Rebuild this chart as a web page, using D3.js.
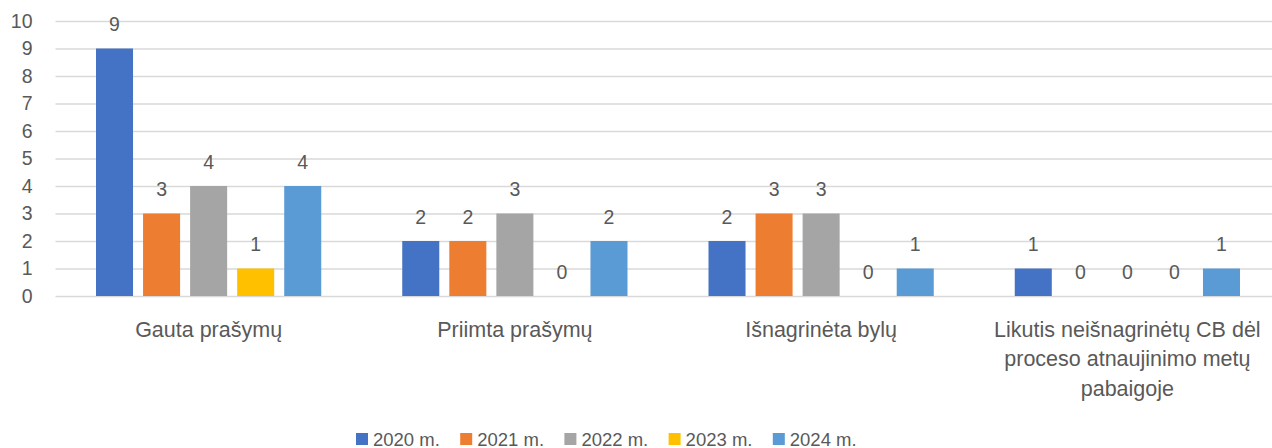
<!DOCTYPE html>
<html><head><meta charset="utf-8">
<script src="https://cdn.jsdelivr.net/npm/d3@7"></script>
<style>
html,body{margin:0;padding:0;background:#fff;}
svg{display:block;font-family:"Liberation Sans",Arial,sans-serif;}
</style></head>
<body><svg id="c" width="1272" height="448"></svg>
<script>
const categories = ["Gauta prašymų", "Priimta prašymų", "Išnagrinėta bylų", "Likutis neišnagrinėtų CB dėl proceso atnaujinimo metų pabaigoje"];
const seriesNames = ["2020 m.", "2021 m.", "2022 m.", "2023 m.", "2024 m."];
const v2020 = [9, 2, 2, 1];
const v2021 = [3, 2, 3, 0];
const v2022 = [4, 3, 3, 0];
const v2023 = [1, 0, 0, 0];
const v2024 = [4, 2, 1, 1];
const yTicks = [0,1,2,3,4,5,6,7,8,9,10];
const colors = ["#4472C4", "#ED7D31", "#A5A5A5", "#FFC000", "#5B9BD5"];

const series = [v2020, v2021, v2022, v2023, v2024];
const svg = d3.select("#c");
const textColor = "#595959";
const fs = 19.5;
const legFs = 18.5;
const catFs = 21.5;

const x0 = d3.scaleBand().domain(categories).range([55.5, 1280.5]).padding(0);
const x1 = d3.scaleBand().domain(seriesNames).range([40.5, x0.bandwidth() - 40.5]).paddingInner(0.213).paddingOuter(0);
const y = d3.scaleLinear().domain([0, 10]).range([296, 21]);

// gridlines
const yAxis = d3.axisLeft(y).tickValues(yTicks).tickSize(-(1280.5 - 55.5)).tickPadding(23);
const ga = svg.append("g").attr("transform", "translate(55.5,0)").call(yAxis);
ga.select(".domain").remove();
ga.selectAll(".tick line").attr("stroke", "#d9d9d9").attr("stroke-width", 1.3);
ga.selectAll(".tick text").attr("fill", textColor).style("font-size", fs + "px").attr("font-family", "Liberation Sans, Arial, sans-serif");

// bars
const groups = svg.append("g").selectAll("g").data(categories).join("g")
  .attr("transform", d => `translate(${x0(d)},0)`);
groups.each(function(cat, ci) {
  const g = d3.select(this);
  seriesNames.forEach((s, si) => {
    const val = series[si][ci];
    g.append("rect")
      .attr("x", x1(s)).attr("y", y(val))
      .attr("width", x1.bandwidth()).attr("height", y(0) - y(val))
      .attr("fill", colors[si]);
    g.append("text")
      .attr("x", x1(s) + x1.bandwidth() / 2).attr("y", y(val) - 17.5)
      .attr("text-anchor", "middle").attr("fill", textColor)
      .style("font-size", fs + "px").text(val);
  });
});

// category labels with wrapping
const xAxisG = svg.append("g");
categories.forEach(cat => {
  const t = xAxisG.append("text").attr("text-anchor", "middle").attr("fill", textColor)
    .style("font-size", catFs + "px");
  const cx = x0(cat) + x0.bandwidth() / 2;
  const words = cat.split(" ");
  let line = [], lines = [];
  const probe = svg.append("text").style("font-size", catFs + "px");
  words.forEach(w => {
    const test = line.concat([w]).join(" ");
    probe.text(test);
    if (probe.node().getComputedTextLength() > 295 && line.length) {
      lines.push(line.join(" "));
      line = [w];
    } else line.push(w);
  });
  lines.push(line.join(" "));
  probe.remove();
  lines.forEach((l, i) => {
    t.append("tspan").attr("x", cx).attr("y", 336.5 + i * 29.5).text(l);
  });
});

// legend
const leg = svg.append("g");
let lx = 356;
seriesNames.forEach((s, i) => {
  leg.append("rect").attr("x", lx).attr("y", 433).attr("width", 12).attr("height", 12).attr("fill", colors[i]);
  leg.append("text").attr("x", lx + 17).attr("y", 446).attr("fill", textColor)
    .style("font-size", legFs + "px").text(s);
  lx += 104.2;
});
</script></body></html>
